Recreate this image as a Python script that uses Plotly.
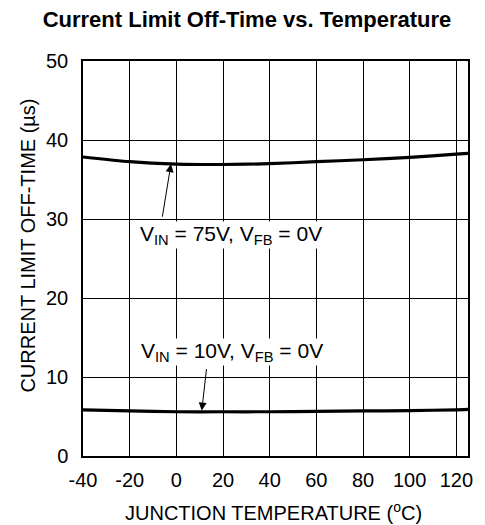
import plotly.graph_objects as go

# Junction temperature sample points (°C)
temp_c = [-40, -20, 0, 20, 40, 60, 80, 100, 120, 125]
# Current limit off-time (µs) for each operating condition
off_time_vin75 = [37.85, 37.25, 36.95, 36.9, 37.0, 37.25, 37.5, 37.8, 38.2, 38.3]
off_time_vin10 = [5.85, 5.7, 5.6, 5.6, 5.6, 5.65, 5.7, 5.75, 5.85, 5.9]

x_ticks = [-40, -20, 0, 20, 40, 60, 80, 100, 120]
y_ticks = [0, 10, 20, 30, 40, 50]

FONT = "Liberation Sans, Arial, Helvetica, sans-serif"

# plot-area edges in pixels
PLOT_L, PLOT_R, PLOT_T, PLOT_B = 83, 472, 61, 456
W, H = 485, 525


def px_to_paper_x(px):
    return (px - PLOT_L) / (PLOT_R - PLOT_L)


def px_to_paper_y(py):
    return (PLOT_B - py) / (PLOT_B - PLOT_T)


fig = go.Figure()
for ys in (off_time_vin75, off_time_vin10):
    fig.add_trace(go.Scatter(
        x=temp_c, y=ys, mode="lines", line=dict(color="black", width=3.2, shape="spline", smoothing=0.6),
        showlegend=False, hoverinfo="skip"))

label_75 = "V<sub>IN</sub> = 75V, V<sub>FB</sub> = 0V"
label_10 = "V<sub>IN</sub> = 10V, V<sub>FB</sub> = 0V"

annotations = [
    # condition labels
    dict(x=23.3, y=28.0, xref="x", yref="y", text=label_75, showarrow=False,
         font=dict(family=FONT, size=21, color="black"), bgcolor="white", borderpad=0),
    dict(x=23.9, y=13.2, xref="x", yref="y", text=label_10, showarrow=False,
         font=dict(family=FONT, size=21, color="black"), bgcolor="white", borderpad=0),
    # pointer arrows from labels to curves
    dict(x=-2.3, y=36.95, ax=-6.1, ay=30.1, xref="x", yref="y", axref="x", ayref="y",
         text="", showarrow=True, arrowhead=2, arrowsize=1.6, arrowwidth=1, arrowcolor="black"),
    dict(x=10.9, y=5.75, ax=13.0, ay=11.2, xref="x", yref="y", axref="x", ayref="y",
         text="", showarrow=True, arrowhead=2, arrowsize=1.6, arrowwidth=1, arrowcolor="black"),
    # axis titles
    dict(x=px_to_paper_x(275), y=px_to_paper_y(511), xref="paper", yref="paper",
         xanchor="center", yanchor="middle",
         text="JUNCTION TEMPERATURE (<sup>o</sup>C)",
         showarrow=False, font=dict(family=FONT, size=20, color="black")),
    dict(x=px_to_paper_x(27), y=px_to_paper_y(246), xref="paper", yref="paper",
         xanchor="center", yanchor="middle",
         text="CURRENT LIMIT OFF-TIME (µs)", textangle=-90,
         showarrow=False, font=dict(family=FONT, size=20, color="black")),
]

fig.update_layout(
    width=W, height=H,
    margin=dict(l=PLOT_L, r=W - PLOT_R, t=PLOT_T, b=H - PLOT_B),
    paper_bgcolor="white", plot_bgcolor="white",
    font=dict(family=FONT, size=20, color="black"),
    title=dict(text="<b>Current Limit Off-Time vs. Temperature</b>", x=247 / W, xanchor="center",
               y=1 - 19 / H, yanchor="middle", font=dict(family=FONT, size=22, color="black")),
    annotations=annotations,
    xaxis=dict(range=[-40, 125], tickvals=x_ticks, ticktext=[str(v) for v in x_ticks],
               showgrid=True, gridcolor="black", gridwidth=1, zeroline=False,
               showline=True, linecolor="black", linewidth=1.5, mirror=True,
               ticks="", ticklabelstandoff=5, tickfont=dict(size=20)),
    yaxis=dict(range=[0, 50], tickvals=y_ticks, ticktext=[str(v) for v in y_ticks],
               showgrid=True, gridcolor="black", gridwidth=1, zeroline=False,
               showline=True, linecolor="black", linewidth=1.5, mirror=True,
               ticks="", ticklabelstandoff=9, tickfont=dict(size=20)),
)

fig.write_html("out.html")
